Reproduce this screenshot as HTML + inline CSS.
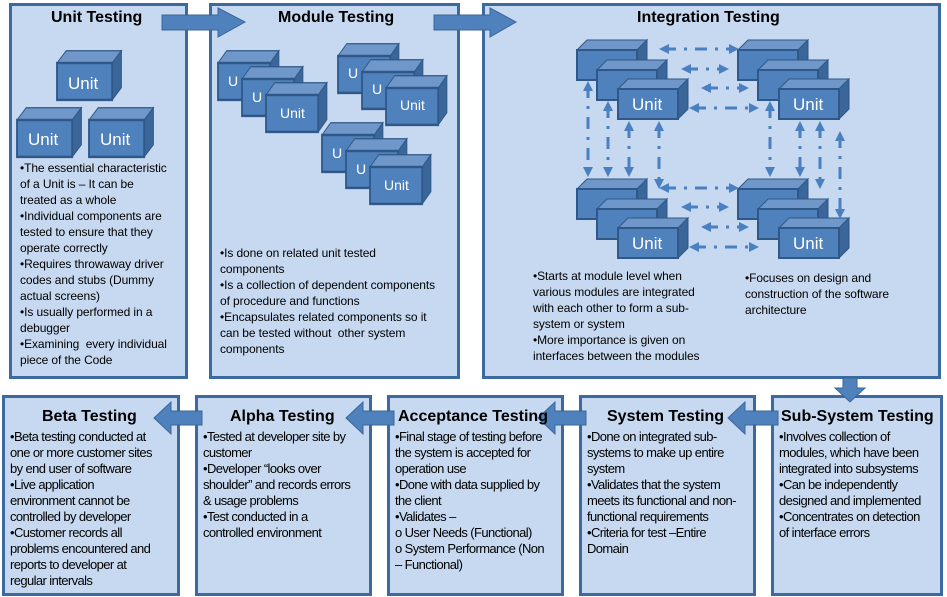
<!DOCTYPE html>
<html><head><meta charset="utf-8"><style>
body{margin:0;background:#fff;width:947px;height:597px;position:relative;overflow:hidden;font-family:"Liberation Sans",sans-serif}
.box{position:absolute;background:#c6d9f0;border:3px solid #3c6aa0;box-sizing:border-box}
.t{position:absolute;font-weight:bold;font-size:16px;color:#000;white-space:nowrap}
.tx{position:absolute;font-size:12px;line-height:16px;color:#000;white-space:nowrap;letter-spacing:-0.1px}
.bx{position:absolute;font-size:13px;line-height:16px;color:#000;white-space:nowrap;letter-spacing:-0.6px}
svg{position:absolute;left:0;top:0}
</style></head><body>
<div class="box" style="left:9px;top:3px;width:179px;height:376px"></div>
<div class="box" style="left:209px;top:3px;width:251px;height:376px"></div>
<div class="box" style="left:482px;top:3px;width:459px;height:376px"></div>
<div class="box" style="left:2px;top:395px;width:178px;height:201px"></div>
<div class="box" style="left:195px;top:395px;width:177px;height:201px"></div>
<div class="box" style="left:387px;top:395px;width:177px;height:201px"></div>
<div class="box" style="left:579px;top:395px;width:177px;height:201px"></div>
<div class="box" style="left:771px;top:395px;width:172px;height:201px"></div>

<svg width="947" height="597" viewBox="0 0 947 597">
<defs>
<g id="c">
<polygon points="0,0 10,-10 70,-10 60,0" fill="#6f97c9" stroke="#2f5787" stroke-width="1"/>
<polygon points="60,0 70,-10 70,20 60,30" fill="#3a6699" stroke="#2f5787" stroke-width="1"/>
<rect x="0" y="0" width="60" height="30" fill="#4f81bd" stroke="#2f5787" stroke-width="2"/>
</g>
<marker id="ah" markerUnits="userSpaceOnUse" markerWidth="10" markerHeight="10" refX="5" refY="5" orient="auto-start-reverse"><path d="M0,0 L10,5 L0,10 z" fill="#4a7fc0"/></marker>
</defs>
<polygon points="162,15 218,15 218,8 245,22 218,37 218,30 162,30" fill="#4f81bd" stroke="#3a6699"/>
<polygon points="434,15 490,15 490,8 516,22 490,37 490,30 434,30" fill="#4f81bd" stroke="#3a6699"/>
<polygon points="843,378 857,378 857,388 865,388 850,402 835,388 843,388" fill="#4f81bd" stroke="#3a6699"/>
<g fill="#4f81bd" stroke="#3a6699">
<polygon points="778,411 778,425 745,425 745,434 728,418 745,402 745,411"/>
<polygon points="586,411 586,425 555,425 555,434 538,418 555,402 555,411"/>
<polygon points="394,411 394,425 363,425 363,434 346,418 363,402 363,411"/>
<polygon points="202,411 202,425 171,425 171,434 154,418 171,402 171,411"/>
</g>
<g transform="translate(57,63) scale(0.92,1.23)"><use href="#c"/></g>
<g transform="translate(17,120) scale(0.92,1.23)"><use href="#c"/></g>
<g transform="translate(89,120) scale(0.92,1.23)"><use href="#c"/></g>
<g fill="#fff" font-size="17" font-family="Liberation Sans,sans-serif">
<text x="68" y="89">Unit</text><text x="28" y="145">Unit</text><text x="100" y="145">Unit</text>
</g>
<g transform="translate(218,63) scale(0.87,1.23)"><use href="#c"/></g>
<g transform="translate(242,79) scale(0.87,1.23)"><use href="#c"/></g>
<g transform="translate(266,95) scale(0.87,1.23)"><use href="#c"/></g>
<g transform="translate(338,56) scale(0.87,1.23)"><use href="#c"/></g>
<g transform="translate(362,72) scale(0.87,1.23)"><use href="#c"/></g>
<g transform="translate(386,88) scale(0.87,1.23)"><use href="#c"/></g>
<g transform="translate(322,135) scale(0.87,1.23)"><use href="#c"/></g>
<g transform="translate(346,151) scale(0.87,1.23)"><use href="#c"/></g>
<g transform="translate(370,167) scale(0.87,1.23)"><use href="#c"/></g>
<g fill="#fff" font-size="14" font-family="Liberation Sans,sans-serif">
<text x="228" y="86">U</text><text x="252" y="102">U</text><text x="280" y="118">Unit</text>
<text x="348" y="78">U</text><text x="372" y="94">U</text><text x="400" y="110">Unit</text>
<text x="332" y="158">U</text><text x="356" y="174">U</text><text x="384" y="190">Unit</text>
</g>
<use href="#c" x="577" y="50"/><use href="#c" x="597" y="70"/><use href="#c" x="618" y="89"/>
<use href="#c" x="738" y="50"/><use href="#c" x="758" y="70"/><use href="#c" x="779" y="89"/>
<use href="#c" x="577" y="189"/><use href="#c" x="597" y="209"/><use href="#c" x="618" y="228"/>
<use href="#c" x="738" y="189"/><use href="#c" x="758" y="209"/><use href="#c" x="779" y="228"/>
<g fill="#fff" font-size="17" font-family="Liberation Sans,sans-serif">
<text x="632" y="110">Unit</text><text x="793" y="110">Unit</text>
<text x="632" y="249">Unit</text><text x="793" y="249">Unit</text>
</g>
<g stroke="#4a7fc0" stroke-width="3" stroke-dasharray="12,8,3,8" fill="none" marker-start="url(#ah)" marker-end="url(#ah)">
<line x1="664" y1="49" x2="734" y2="49"/>
<line x1="686" y1="69" x2="724" y2="69"/>
<line x1="706" y1="88" x2="744" y2="88"/>
<line x1="694" y1="108" x2="754" y2="108"/>
<line x1="664" y1="188" x2="734" y2="188"/>
<line x1="686" y1="207" x2="724" y2="207"/>
<line x1="706" y1="227" x2="744" y2="227"/>
<line x1="694" y1="247" x2="754" y2="247"/>
<line x1="588" y1="86" x2="588" y2="172"/>
<line x1="608" y1="106" x2="608" y2="172"/>
<line x1="629" y1="126" x2="629" y2="172"/>
<line x1="659" y1="126" x2="659" y2="184"/>
<line x1="770" y1="106" x2="770" y2="172"/>
<line x1="800" y1="126" x2="800" y2="172"/>
<line x1="820" y1="126" x2="820" y2="184"/>
<line x1="840" y1="136" x2="840" y2="214"/>
</g>
</svg>

<div class="t" style="left:51px;top:9px">Unit Testing</div>
<div class="t" style="left:278px;top:9px">Module Testing</div>
<div class="t" style="left:637px;top:9px">Integration Testing</div>
<div class="tx" style="left:20px;top:160px">•The essential characteristic<br>of a Unit is – It can be<br>treated as a whole<br>•Individual components are<br>tested to ensure that they<br>operate correctly<br>•Requires throwaway driver<br>codes and stubs (Dummy<br>actual screens)<br>•Is usually performed in a<br>debugger<br>•Examining &nbsp;every individual<br>piece of the Code</div>
<div class="tx" style="left:220px;top:245px">•Is done on related unit tested<br>components<br>•Is a collection of dependent components<br>of procedure and functions<br>•Encapsulates related components so it<br>can be tested without &nbsp;other system<br>components</div>
<div class="tx" style="left:533px;top:268px">•Starts at module level when<br>various modules are integrated<br>with each other to form a sub-<br>system or system<br>•More importance is given on<br>interfaces between the modules</div>
<div class="tx" style="left:745px;top:270px">•Focuses on design and<br>construction of the software<br>architecture</div>

<div class="t" style="left:42px;top:408px">Beta Testing</div>
<div class="t" style="left:230px;top:408px">Alpha Testing</div>
<div class="t" style="left:398px;top:408px">Acceptance Testing</div>
<div class="t" style="left:607px;top:408px">System Testing</div>
<div class="t" style="left:781px;top:408px">Sub-System Testing</div>
<div class="bx" style="left:10px;top:429px">•Beta testing conducted at<br>one or more customer sites<br>by end user of software<br>•Live application<br>environment cannot be<br>controlled by developer<br>•Customer records all<br>problems encountered and<br>reports to developer at<br>regular intervals</div>
<div class="bx" style="left:203px;top:429px">•Tested at developer site by<br>customer<br>•Developer “looks over<br>shoulder” and records errors<br>&amp; usage problems<br>•Test conducted in a<br>controlled environment</div>
<div class="bx" style="left:395px;top:429px">•Final stage of testing before<br>the system is accepted for<br>operation use<br>•Done with data supplied by<br>the client<br>•Validates –<br>o User Needs (Functional)<br>o System Performance (Non<br>– Functional)</div>
<div class="bx" style="left:587px;top:429px">•Done on integrated sub-<br>systems to make up entire<br>system<br>•Validates that the system<br>meets its functional and non-<br>functional requirements<br>•Criteria for test –Entire<br>Domain</div>
<div class="bx" style="left:779px;top:429px">•Involves collection of<br>modules, which have been<br>integrated into subsystems<br>•Can be independently<br>designed and implemented<br>•Concentrates on detection<br>of interface errors</div>
</body></html>
